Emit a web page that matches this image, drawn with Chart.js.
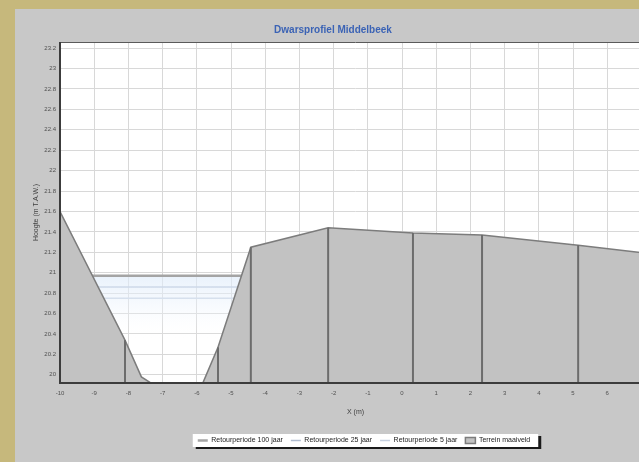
<!DOCTYPE html>
<html>
<head>
<meta charset="utf-8">
<title>Dwarsprofiel Middelbeek</title>
<script src="https://cdn.jsdelivr.net/npm/chart.js@4"></script>
<style>
  html, body { margin: 0; padding: 0; }
  body { width: 639px; height: 462px; overflow: hidden; background: #c6b87c; position: relative; }
  #panel { position: absolute; left: 15px; top: 9px; width: 636px; height: 453px; background: #c8c8c8; }
  #panel canvas { display: block; }
</style>
</head>
<body>
<div id="panel"><canvas id="profiel" width="636" height="453"></canvas></div>
<script>
// dwarsprofiel: afstand (m) en hoogte (m T.A.W.)
const profielX = [-10, -8.1, -7.62, -7.25, -5.85, -5.76, -5.38, -4.42, -2.16, 0.32, 2.34, 5.15, 7.4];
const profielZ = [21.6, 20.34, 19.98, 19.9, 19.9, 19.97, 20.27, 21.25, 21.44, 21.39, 21.37, 21.27, 21.18];
// meetpunten met een verticale lijn (index in het profiel)
const meetpunten = [1, 6, 7, 8, 9, 10, 11];

// waterpeilen per retourperiode
const peilNamen = ['Retourperiode 100 jaar', 'Retourperiode 25 jaar', 'Retourperiode 5 jaar'];
const peilen = [20.97, 20.86, 20.75];
const oeverX = [-10, -4.42];

const kleurPeil = ['#a4a4a4', '#b0bcd0', '#c6d0e0'];
const dikPeil = [2.5, 1.5, 1.5];

const font = 'Arial, "Liberation Sans", sans-serif';

const peilSets = peilen.map((z, i) => ({
  label: peilNamen[i],
  data: oeverX.map(x => ({ x, y: z })),
  borderColor: kleurPeil[i],
  borderWidth: dikPeil[i],
  pointRadius: 0,
  pointStyle: 'line',
  order: i + 1,
  fill: i === 0 ? 'start' : false,
  backgroundColor: i === 0 ? (c => {
    const chart = c.chart;
    if (!chart.chartArea) return 'rgba(225,236,250,0.5)';
    const top = chart.scales.y.getPixelForValue(z);
    const g = chart.ctx.createLinearGradient(0, top, 0, top + 65);
    g.addColorStop(0, 'rgba(222,235,250,0.65)');
    g.addColorStop(0.4, 'rgba(234,242,252,0.45)');
    g.addColorStop(1, 'rgba(255,255,255,0)');
    return g;
  }) : kleurPeil[i]
}));

const terrein = {
  label: 'Terrein maaiveld',
  data: profielX.map((x, i) => ({ x, y: profielZ[i] })),
  borderColor: '#7c7c7c',
  borderWidth: 1.5,
  backgroundColor: '#c2c2c2',
  fill: 'start',
  pointRadius: 0,
  pointStyle: 'rect',
  order: 0
};

const kader = {
  id: 'kader',
  afterLayout(chart) {
    // legenda iets naar rechts, onder het zichtbare deel van de grafiek
    chart.legend.left += 31;
    chart.legend.right += 31;
  },
  beforeDraw(chart) {
    const { ctx, chartArea: a } = chart;
    ctx.save();
    ctx.fillStyle = '#ffffff';
    ctx.fillRect(a.left, a.top, a.right - a.left, a.bottom - a.top);
    const boxes = chart.legend.legendHitBoxes;
    if (boxes && boxes.length) {
      const l = Math.min(...boxes.map(b => b.left)) - 5;
      const r = Math.max(...boxes.map(b => b.left + b.width)) + 8;
      const t = boxes[0].top - 3;
      const h = boxes[0].height + 6;
      ctx.fillStyle = '#1a1a1a';
      ctx.fillRect(l + 3, t + 2, r - l, h);
      ctx.fillStyle = '#ffffff';
      ctx.fillRect(l, t, r - l, h);
    }
    ctx.restore();
  },
  afterDatasetsDraw(chart) {
    const { ctx, chartArea: a, scales } = chart;
    ctx.save();
    ctx.beginPath();
    ctx.rect(a.left, a.top, a.right - a.left, a.bottom - a.top);
    ctx.clip();
    ctx.strokeStyle = '#6c6c6c';
    ctx.lineWidth = 2;
    meetpunten.forEach(i => {
      const px = scales.x.getPixelForValue(profielX[i]);
      const py = scales.y.getPixelForValue(profielZ[i]);
      ctx.beginPath();
      ctx.moveTo(px, py);
      ctx.lineTo(px, a.bottom);
      ctx.stroke();
    });
    ctx.restore();
    ctx.save();
    ctx.strokeStyle = '#5a5a5a';
    ctx.lineWidth = 1;
    ctx.beginPath();
    ctx.moveTo(a.left, a.top + 0.5);
    ctx.lineTo(a.right, a.top + 0.5);
    ctx.stroke();
    ctx.strokeStyle = '#3c3c3c';
    ctx.lineWidth = 2;
    ctx.beginPath();
    ctx.moveTo(a.left, a.top);
    ctx.lineTo(a.left, a.bottom);
    ctx.lineTo(a.right, a.bottom);
    ctx.stroke();
    ctx.restore();
  }
};

new Chart(document.getElementById('profiel'), {
  type: 'line',
  data: { datasets: [...peilSets, terrein] },
  plugins: [kader],
  options: {
    responsive: false,
    animation: false,
    layout: { padding: { left: 0, right: 0, top: 0, bottom: 8 } },
    plugins: {
      title: {
        display: true,
        text: 'Dwarsprofiel Middelbeek',
        color: '#3b63b5',
        font: { family: font, size: 10, weight: 'bold' },
        padding: { top: 15, bottom: 6 }
      },
      legend: {
        position: 'bottom',
        labels: {
          usePointStyle: true,
          pointStyleWidth: 10,
          boxHeight: 6,
          padding: 8,
          color: '#222222',
          font: { family: font, size: 7 },
          sort: (a, b) => a.datasetIndex - b.datasetIndex
        }
      },
      tooltip: { enabled: false }
    },
    scales: {
      x: {
        type: 'linear',
        min: -10,
        max: 7.28,
        afterFit: s => { s.height = 46; },
        ticks: { stepSize: 1, autoSkip: false, includeBounds: false, padding: 7, color: '#505050', font: { family: font, size: 6 } },
        grid: { color: '#d8d8d8', drawTicks: false },
        border: { display: false },
        title: { display: true, text: 'X (m)', color: '#404040', font: { family: font, size: 7 }, padding: { top: 0, bottom: 13 } }
      },
      y: {
        min: 19.92,
        max: 23.26,
        afterFit: s => { s.width = 45; },
        ticks: {
          stepSize: 0.2,
          includeBounds: false,
          autoSkip: false,
          padding: 4,
          color: '#505050',
          font: { family: font, size: 6 },
          callback: v => String(Number(v.toFixed(1)))
        },
        grid: { color: '#d8d8d8', drawTicks: false },
        border: { display: false },
        title: { display: true, text: 'Hoogte (m T.A.W.)', color: '#404040', font: { family: font, size: 7 }, padding: { top: 17, bottom: 0 } }
      }
    }
  }
});
</script>
</body>
</html>
